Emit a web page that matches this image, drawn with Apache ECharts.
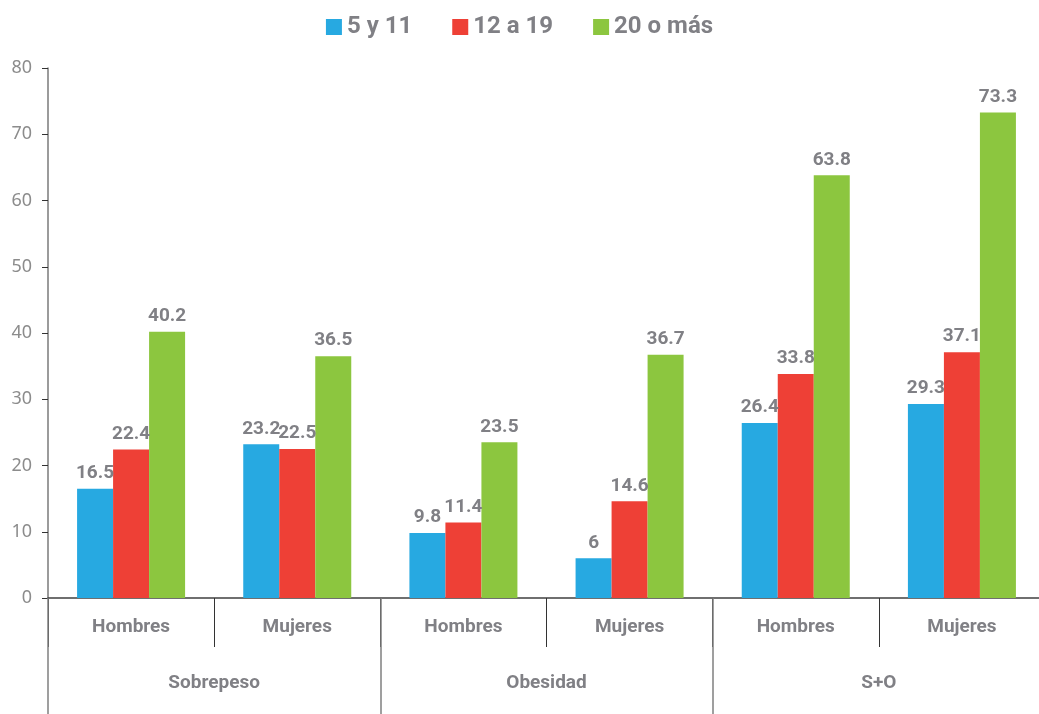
<!DOCTYPE html>
<html>
<head>
<meta charset="utf-8">
<script src="https://cdn.jsdelivr.net/npm/echarts@6/dist/echarts.min.js"></script>
<style>
  html, body { margin: 0; padding: 0; background: #fff; }
  #chart { width: 1039px; height: 714px; }
</style>
</head>
<body>
<div id="chart"></div>
<script>
// sub-categories (bottom row 1) and groups (bottom row 2)
const subCategories = ['Hombres', 'Mujeres', 'Hombres', 'Mujeres', 'Hombres', 'Mujeres']
const groupCategories = ['Sobrepeso', 'Obesidad', 'S+O']

const seriesNames = ['5 y 11', '12 a 19', '20 o más']
const age5to11 = [16.5, 23.2, 9.8, 6, 26.4, 29.3]
const age12to19 = [22.4, 22.5, 11.4, 14.6, 33.8, 37.1]
const age20plus = [40.2, 36.5, 23.5, 36.7, 63.8, 73.3]

const yTicks = { min: 0, max: 80, interval: 10 }

const COLORS = ['#27a9e1', '#ee4036', '#8cc63f']
const TEXT_GRAY = '#808085'
const FONT = 'Roboto'

const chart = echarts.init(document.getElementById('chart'))

const barSeries = [age5to11, age12to19, age20plus].map((values, i) => ({
  name: seriesNames[i],
  type: 'bar',
  xAxisIndex: 0,
  data: values,
  barGap: '0%',
  barCategoryGap: '35%',
  itemStyle: { color: COLORS[i] },
  label: {
    show: true,
    position: 'top',
    distance: 6,
    color: TEXT_GRAY,
    fontFamily: FONT,
    fontWeight: 'bold',
    fontSize: 19
  }
}))

chart.setOption({
  animation: false,
  legend: {
    top: 10,
    left: 'center',
    itemWidth: 16,
    itemHeight: 16,
    itemGap: 40,
    icon: 'rect',
    textStyle: { color: TEXT_GRAY, fontFamily: FONT, fontWeight: 'bold', fontSize: 24 },
    data: seriesNames
  },
  // plot runs slightly past the right edge of the canvas, as in the original
  grid: { left: 48, width: 997, top: 68, bottom: 116, containLabel: false, outerBoundsMode: 'none' },
  xAxis: [
    {
      type: 'category',
      data: subCategories,
      axisLine: { lineStyle: { color: '#404040', width: 1.5 } },
      axisTick: { show: true, interval: 0, length: 49, lineStyle: { color: '#333' } },
      axisLabel: {
        interval: 0,
        margin: 20,
        color: TEXT_GRAY,
        fontFamily: FONT,
        fontWeight: 'bold',
        fontSize: 19
      }
    },
    {
      type: 'category',
      position: 'bottom',
      data: groupCategories,
      axisLine: { show: false },
      axisTick: { show: true, interval: 0, length: 116, lineStyle: { color: '#808080', width: 1.5 } },
      axisLabel: {
        interval: 0,
        margin: 76,
        color: TEXT_GRAY,
        fontFamily: FONT,
        fontWeight: 'bold',
        fontSize: 19
      }
    }
  ],
  yAxis: {
    type: 'value',
    min: yTicks.min,
    max: yTicks.max,
    interval: yTicks.interval,
    splitLine: { show: false },
    axisLine: { show: true, lineStyle: { color: '#7a7a7a', width: 1.5 } },
    axisTick: { show: true, length: 6, lineStyle: { color: '#333' } },
    axisLabel: { margin: 16, color: '#8c8c8c', fontFamily: 'Noto Sans', fontSize: 18 }
  },
  series: barSeries
})
</script>
</body>
</html>
